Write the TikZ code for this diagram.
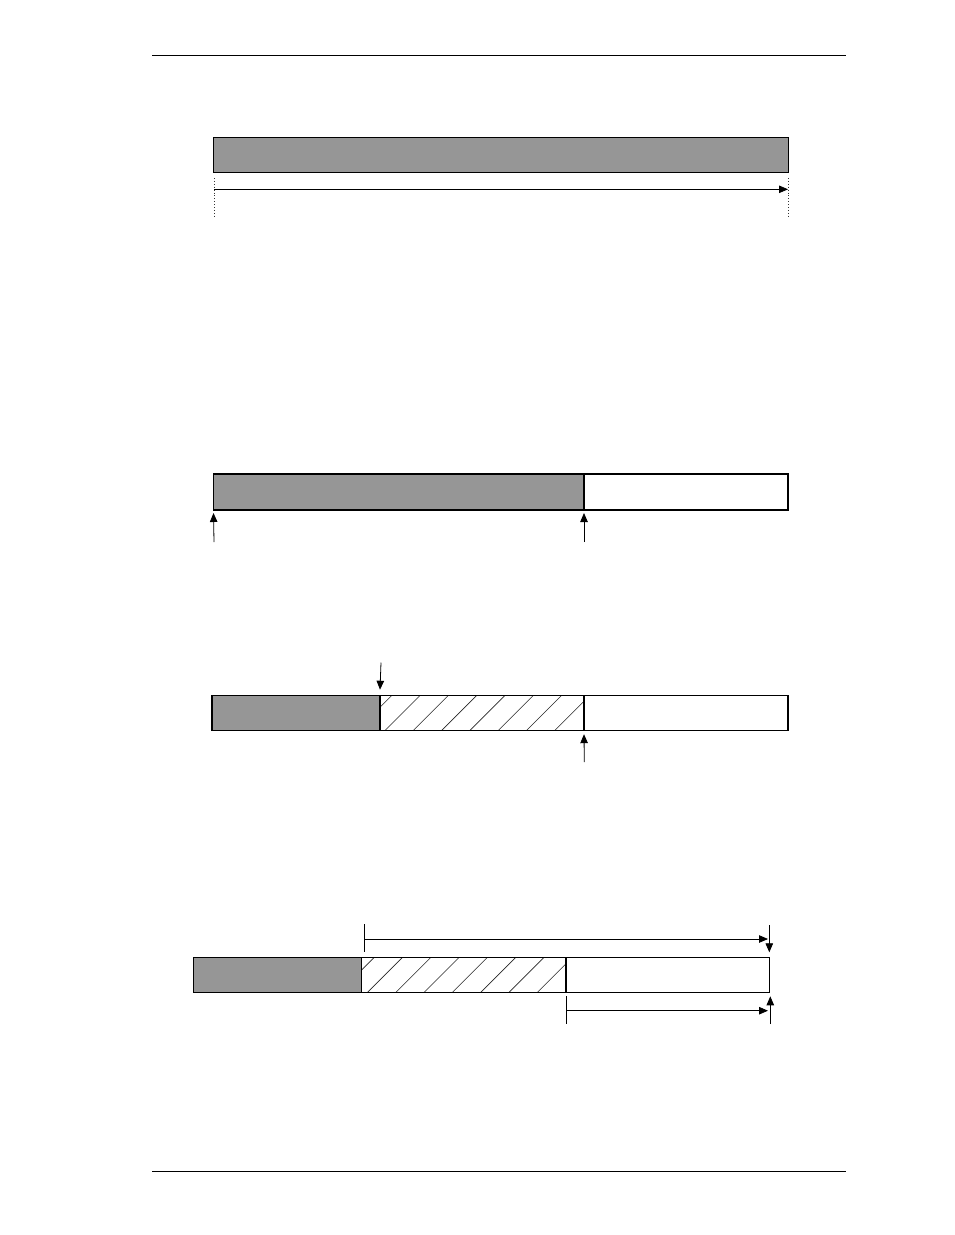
\documentclass[tikz,border=0pt]{standalone}
\usetikzlibrary{arrows.meta}
\definecolor{bargray}{RGB}{150,150,150}
\tikzset{
  seg/.style={draw=black, line width=1.1pt, inner sep=0pt, outer sep=0pt, anchor=north west},
  graybar/.style={seg, fill=bargray},
  whitebar/.style={seg, fill=white},
  hatchbar/.style={seg, fill=white, path picture={
      \foreach \k in {-1,...,7}{
        \draw[line width=0.6pt, black!85]
          ([xshift={5.3pt+28.3pt*\k}]path picture bounding box.south west) -- ++(36pt,36pt);
      }}},
  divider/.style={line width=2.4pt},
  arr/.style={line width=0.8pt, -{Triangle[length=9pt,width=7.5pt]}},
  tick/.style={line width=0.8pt},
  guide/.style={line width=0.9pt, dotted, black!80},
  rule/.style={line width=0.6pt}
}
\begin{document}
\begin{tikzpicture}[x=1pt,y=-1pt]
\useasboundingbox (0,0) rectangle (954,1235);

% page rules
\coordinate (hl) at (152,55); \coordinate (hr) at (846,55);
\coordinate (fl) at (152,1171); \coordinate (fr) at (846,1171);
\draw[rule] (hl) -- (hr);
\draw[rule] (fl) -- (fr);

% ---------- diagram 1 ----------
\node[graybar, minimum width=575pt, minimum height=35pt] (b1) at (213.5,137.5) {};
\coordinate (d1a) at (214,178); \coordinate (d1b) at (214,216);
\coordinate (d1c) at (788,178); \coordinate (d1d) at (788,216);
\draw[guide] (d1a) -- (d1b);
\draw[guide] (d1c) -- (d1d);
\coordinate (a1s) at (214,189.3); \coordinate (a1e) at (788,189.3);
\draw[arr] (a1s) -- (a1e);

% ---------- diagram 2 ----------
\node[graybar, minimum width=370.5pt, minimum height=36pt] (g2) at (213.5,474) {};
\node[whitebar, minimum width=204pt, minimum height=36pt] (w2) at (g2.north east) {};
\draw[divider] (w2.north west) -- (w2.south west);
\coordinate (u2a) at (214,542); \coordinate (u2b) at (584,542);
\draw[arr] (u2a) -- ([yshift=-3pt]g2.south west);
\draw[arr] (u2b) -- ([yshift=-3pt]w2.south west);

% ---------- diagram 3 ----------
\node[graybar, minimum width=168pt, minimum height=34.5pt] (g3) at (212,695.7) {};
\node[hatchbar, minimum width=204pt, minimum height=34.5pt] (h3) at (g3.north east) {};
\node[whitebar, minimum width=204pt, minimum height=34.5pt] (w3) at (h3.north east) {};
\draw[divider] (w3.north west) -- (w3.south west);
\coordinate (d3) at (381,662.5);
\draw[arr] (d3) -- ([yshift=6pt]h3.north west);
\coordinate (u3) at (584.3,762);
\draw[arr] (u3) -- ([yshift=-4pt]w3.south west);

% ---------- diagram 4 ----------
\node[graybar, minimum width=168.5pt, minimum height=35.5pt] (g4) at (193.3,957.3) {};
\node[hatchbar, minimum width=204pt, minimum height=35.5pt] (h4) at (g4.north east) {};
\node[whitebar, minimum width=203.5pt, minimum height=35.5pt] (w4) at (h4.north east) {};
\draw[divider] (w4.north west) -- (w4.south west);
% top span
\coordinate (t4a) at (364.5,924); \coordinate (t4b) at (364.5,952.3);
\draw[tick] (t4a) -- (t4b);
\coordinate (s4a) at (364.5,939); \coordinate (s4b) at (768,939);
\draw[arr] (s4a) -- (s4b);
\coordinate (v4a) at (769.3,925);
\draw[arr] (v4a) -- ([yshift=5pt]w4.north east);
% bottom span
\coordinate (t4c) at (566.3,996); \coordinate (t4d) at (566.3,1024);
\draw[tick] (t4c) -- (t4d);
\coordinate (s4c) at (566.3,1010.7); \coordinate (s4d) at (768,1010.7);
\draw[arr] (s4c) -- (s4d);
\coordinate (v4b) at (770.3,1024);
\draw[arr] (v4b) -- ([xshift=1pt,yshift=-3.5pt]w4.south east);
\end{tikzpicture}
\end{document}
